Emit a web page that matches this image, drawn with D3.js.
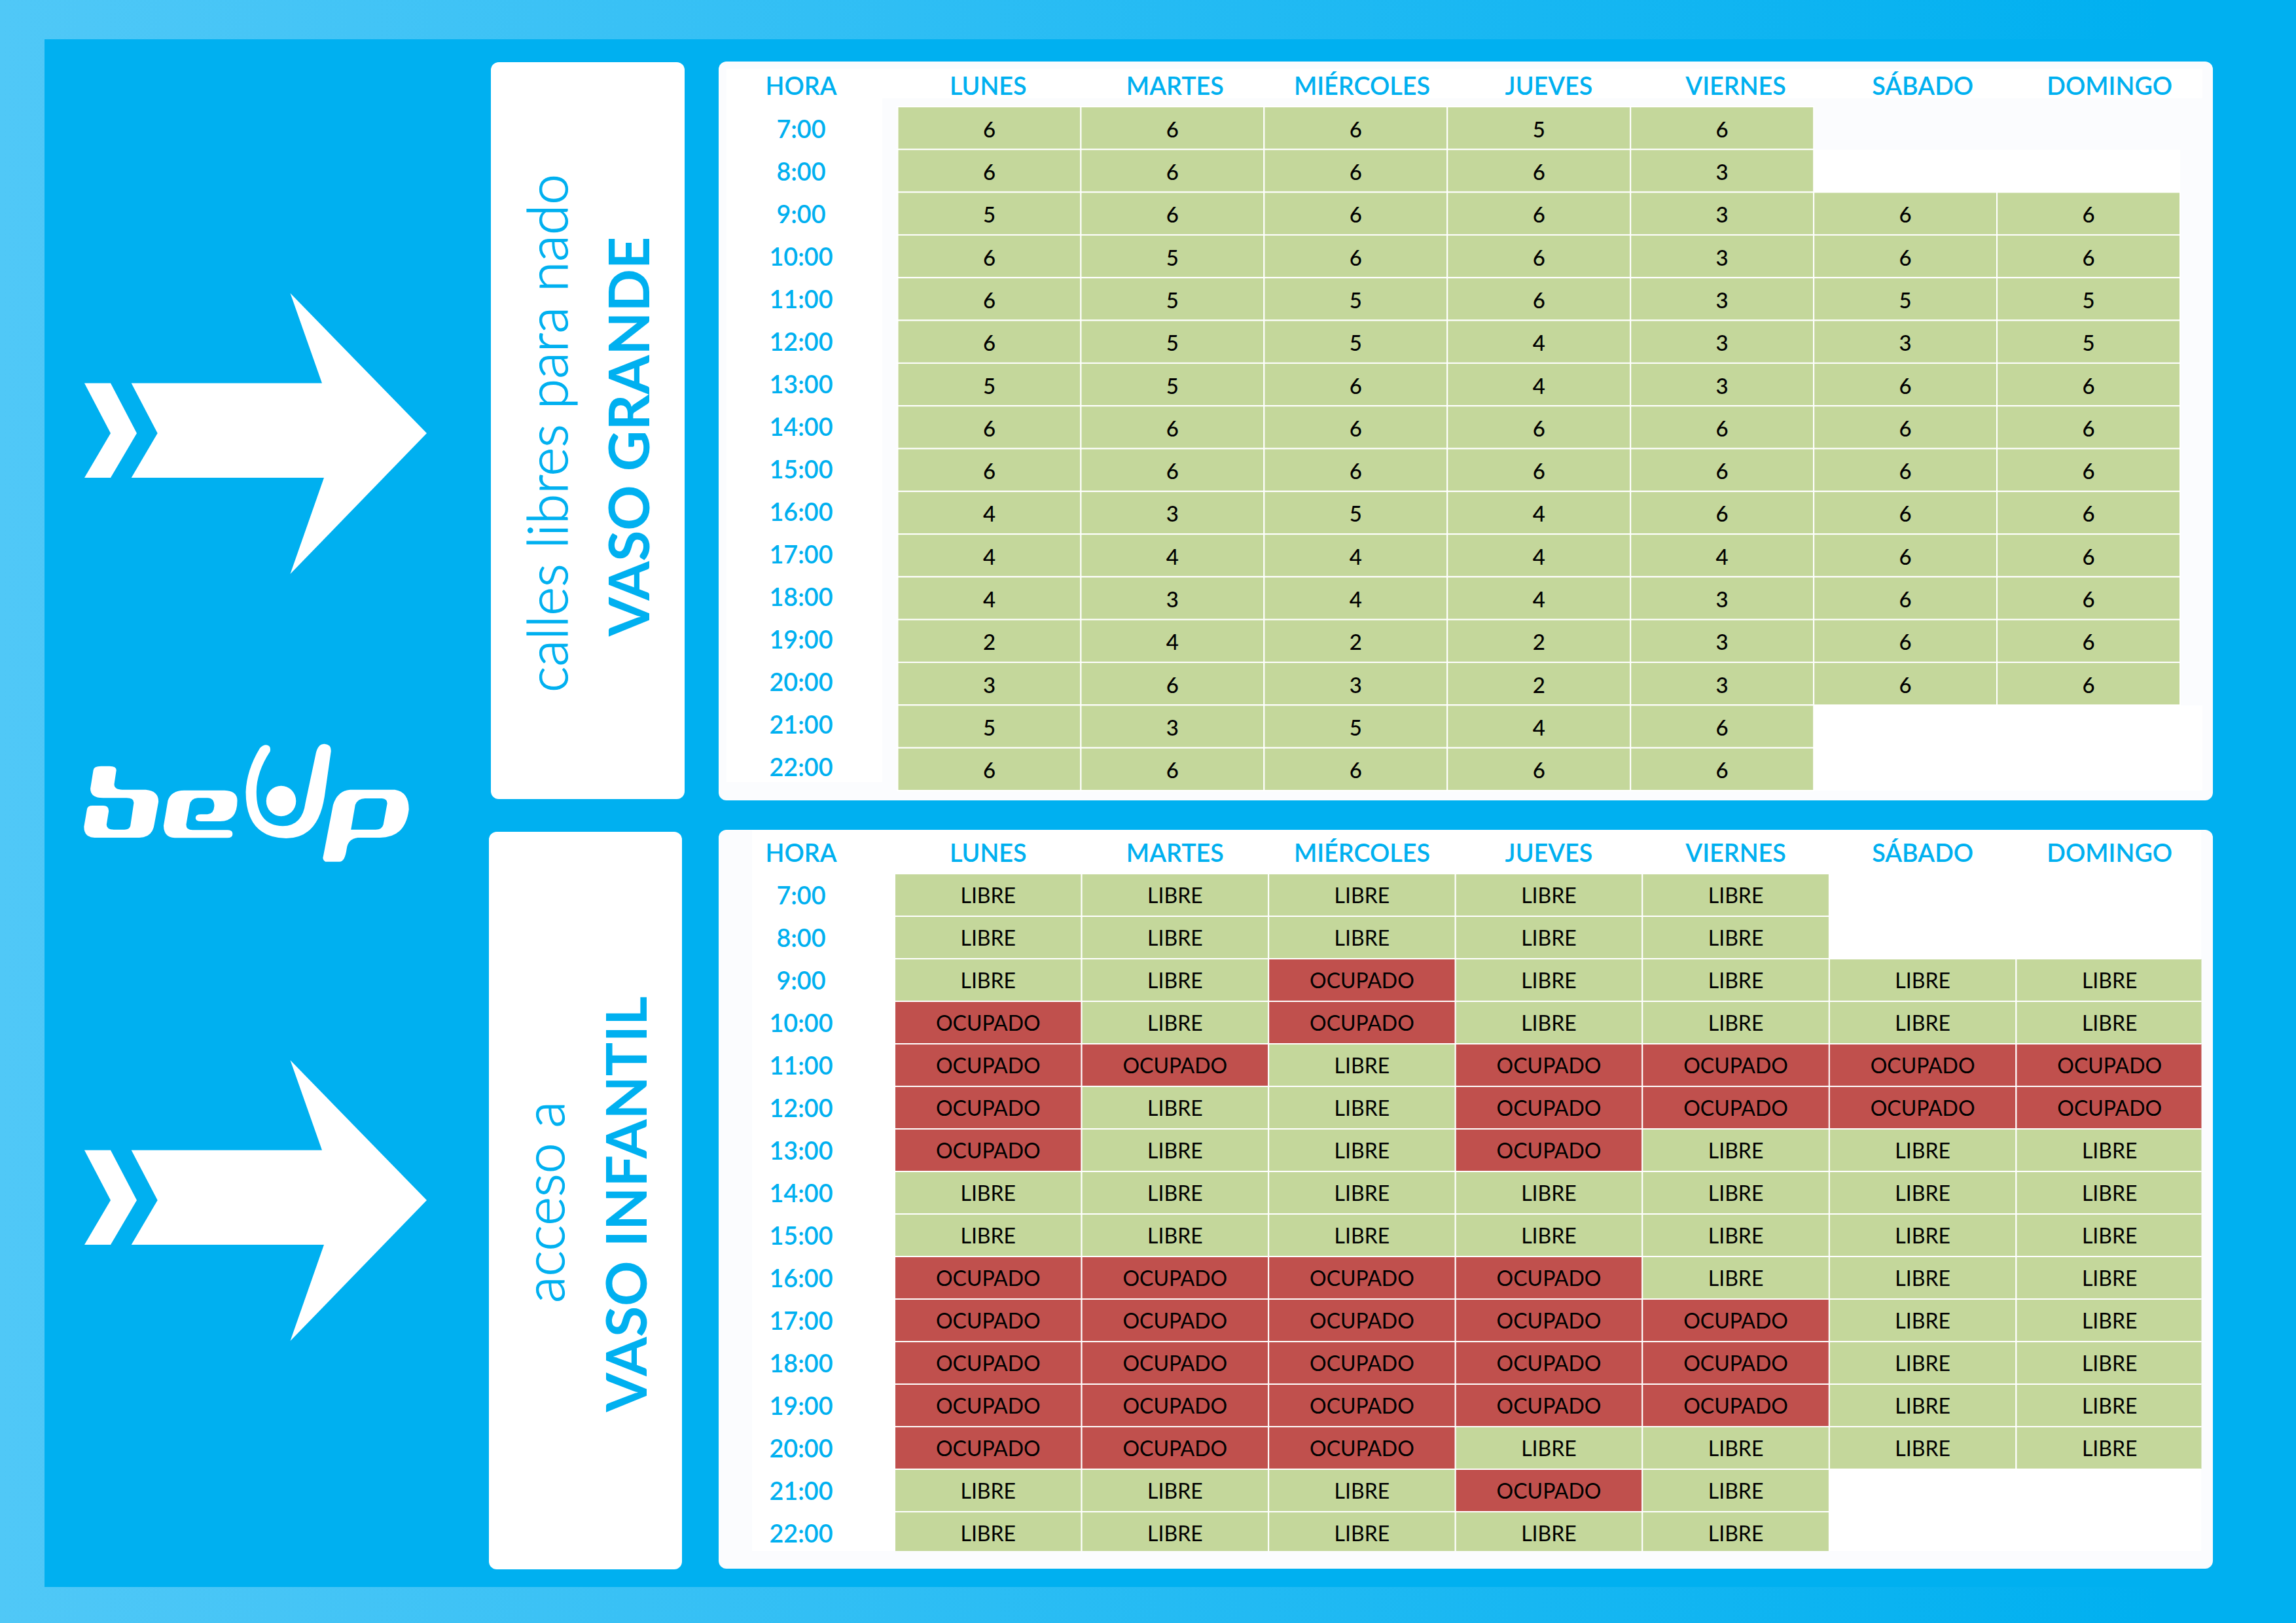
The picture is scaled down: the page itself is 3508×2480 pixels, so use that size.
<!DOCTYPE html>
<html>
<head>
<meta charset="utf-8">
<script src="https://cdn.jsdelivr.net/npm/d3@7"></script>
<style>
  html, body { margin: 0; padding: 0; background: #00b0f0; }
  svg { display: block; }
  text { font-family: Lato, "Open Sans", sans-serif; }
</style>
</head>
<body>
<svg id="chart" width="3508" height="2480"></svg>
<script>
const days = ["LUNES", "MARTES", "MIÉRCOLES", "JUEVES", "VIERNES", "SÁBADO", "DOMINGO"];
const hours = ["7:00", "8:00", "9:00", "10:00", "11:00", "12:00", "13:00", "14:00",
  "15:00", "16:00", "17:00", "18:00", "19:00", "20:00", "21:00", "22:00"];

// calles libres, one array per day, null = closed
const callesLunes = [6, 6, 5, 6, 6, 6, 5, 6, 6, 4, 4, 4, 2, 3, 5, 6];
const callesMartes = [6, 6, 6, 5, 5, 5, 5, 6, 6, 3, 4, 3, 4, 6, 3, 6];
const callesMiercoles = [6, 6, 6, 6, 5, 5, 6, 6, 6, 5, 4, 4, 2, 3, 5, 6];
const callesJueves = [5, 6, 6, 6, 6, 4, 4, 6, 6, 4, 4, 4, 2, 2, 4, 6];
const callesViernes = [6, 3, 3, 3, 3, 3, 3, 6, 6, 6, 4, 3, 3, 3, 6, 6];
const callesSabado = [null, null, 6, 6, 5, 3, 6, 6, 6, 6, 6, 6, 6, 6, null, null];
const callesDomingo = [null, null, 6, 6, 5, 5, 6, 6, 6, 6, 6, 6, 6, 6, null, null];

// vaso infantil, L = libre, O = ocupado
const L = "LIBRE", O = "OCUPADO";
const infantilLunes = [L, L, L, O, O, O, O, L, L, O, O, O, O, O, L, L];
const infantilMartes = [L, L, L, L, O, L, L, L, L, O, O, O, O, O, L, L];
const infantilMiercoles = [L, L, O, O, L, L, L, L, L, O, O, O, O, O, L, L];
const infantilJueves = [L, L, L, L, O, O, O, L, L, O, O, O, O, L, O, L];
const infantilViernes = [L, L, L, L, O, O, L, L, L, L, O, O, O, L, L, L];
const infantilSabado = [null, null, L, L, O, O, L, L, L, L, L, L, L, L, null, null];
const infantilDomingo = [null, null, L, L, O, O, L, L, L, L, L, L, L, L, null, null];

const callesByDay = [callesLunes, callesMartes, callesMiercoles, callesJueves, callesViernes, callesSabado, callesDomingo];
const infantilByDay = [infantilLunes, infantilMartes, infantilMiercoles, infantilJueves, infantilViernes, infantilSabado, infantilDomingo];

const blue = "#00b0f0", green = "#c4d79b", red = "#c0504d", pale = "#fbfcfe";

const svg = d3.select("#chart");

// background
const grad = svg.append("defs").append("linearGradient")
  .attr("id", "bg").attr("gradientUnits", "userSpaceOnUse")
  .attr("x1", 0).attr("y1", 0).attr("x2", 3300).attr("y2", 0);
grad.append("stop").attr("offset", 0).attr("stop-color", "#50c8f7");
grad.append("stop").attr("offset", 1).attr("stop-color", "#00b0f0");
svg.append("rect").attr("width", 3508).attr("height", 2480).attr("fill", "url(#bg)");
svg.append("rect").attr("x", 68).attr("y", 60).attr("width", 3373).attr("height", 2365).attr("fill", blue);

// arrows
const arrowBody = [[200.7, 585.5], [492, 585.5], [443.5, 448], [652, 662], [443.5, 877], [495, 730], [200.7, 730], [240.7, 662]];
const arrowChevron = [[129, 585.5], [169, 585.5], [209, 662], [169, 730], [129, 730], [169, 662]];
const lineGen = d3.line().curve(d3.curveLinearClosed);
[0, 1172].forEach(dy => {
  const g = svg.append("g").attr("transform", `translate(0,${dy})`).attr("fill", "#fff");
  g.append("path").attr("d", lineGen(arrowBody));
  g.append("path").attr("d", lineGen(arrowChevron));
});

// logo
const logo = svg.append("g").attr("transform", "translate(60,1080) scale(0.6506,0.3333)").attr("fill", "#fff");
logo.append("path").attr("d", "M127,290 Q128,272 145,272 L165,272 Q181,272 181,290 L176,355 Q176,380 195,380 L250,380 Q280,385 280,435 L270,540 Q265,600 235,600 L130,600 Q105,600 105,550 L112,470 Q113,453 125,453 L150,453 Q164,453 163,480 L158,540 Q158,563 175,563 L200,563 Q212,563 214,545 L222,440 Q222,418 205,418 L150,418 Q120,418 120,375 Z");
logo.append("path").attr("d", "M302,430 Q310,383 340,383 L435,383 Q465,385 465,430 Q465,525 425,525 L380,525 Q367,525 367,510 Q367,493 380,493 L395,493 Q410,490 411,455 Q411,418 395,418 L372,418 Q356,420 353,450 L345,540 Q345,565 360,565 L442,565 Q454,565 454,583 Q454,601 442,601 L318,601 Q292,598 292,545 Z");
logo.append("path").attr("d", "M518,190 Q525,175 533,175 Q545,178 542,205 Q510,300 510,390 Q510,545 572,547 Q618,545 625,440 L650,210 Q655,170 670,170 Q686,172 685,205 L670,410 Q655,603 580,603 Q485,600 485,390 Q487,290 518,190 Z");
logo.append("ellipse").attr("cx", 568).attr("cy", 432).attr("rx", 35).attr("ry", 70);
logo.append("path").attr("fill-rule", "evenodd").attr("d", "M690,450 Q700,385 730,380 L835,380 Q868,390 868,470 Q860,600 800,600 L748,600 Q725,605 722,650 Q718,710 705,710 L672,710 Q664,700 667,685 Z M742,450 Q748,420 765,420 L805,420 Q818,422 817,445 L808,540 Q805,563 790,563 L732,563 Z");

// side labels
function sideLabel(x, y, w, h, lightText, lightY, boldText, boldY, lightX, boldX) {
  svg.append("rect").attr("x", x).attr("y", y).attr("width", w).attr("height", h).attr("rx", 12).attr("fill", "#fff");
  svg.append("text").attr("transform", `translate(${lightX},${lightY}) rotate(-90)`)
    .attr("text-anchor", "middle").attr("font-size", 84).attr("font-weight", 300)
    .attr("fill", blue).attr("stroke", blue).attr("stroke-width", 1.2).text(lightText);
  svg.append("text").attr("transform", `translate(${boldX},${boldY}) rotate(-90)`)
    .attr("text-anchor", "middle").attr("font-size", 86).attr("font-weight", 700).attr("fill", blue).text(boldText);
}
sideLabel(750, 95, 296, 1126, "calles libres para nado", 662, "VASO GRANDE", 667, 867, 992);
sideLabel(747, 1271, 295, 1127, "acceso a", 1837, "VASO INFANTIL", 1840, 862, 988);

// panels
function panel(y0, y1) {
  svg.append("rect").attr("x", 1098).attr("y", y0).attr("width", 2283).attr("height", y1 - y0).attr("rx", 12).attr("fill", pale);
}
function whiteBox(x0, y0, x1, y1) {
  svg.append("rect").attr("x", x0).attr("y", y0).attr("width", x1 - x0).attr("height", y1 - y0).attr("fill", "#fff");
}
panel(94, 1223);
panel(1268, 2397);
whiteBox(1110, 105, 3365, 150);
whiteBox(1110, 150, 1348, 1195);
whiteBox(2771, 229, 3331, 294);
whiteBox(2771, 1078, 3365, 1208);
whiteBox(1149, 1269, 3363, 2370);

// header + hour axes share the infantil grid
const xHeader = d3.scaleBand().domain(days).range([1367, 3366]);
const labelSize = 37.7;

function drawAxes(headerY, hourScale) {
  const top = svg.append("g").attr("transform", `translate(0,${headerY})`)
    .call(d3.axisTop(xHeader).tickSize(0).tickPadding(0));
  const left = svg.append("g").attr("transform", "translate(1224,0)")
    .call(d3.axisLeft(hourScale).tickSize(0).tickPadding(0));
  top.select(".domain").remove();
  left.select(".domain").remove();
  top.selectAll("text").attr("dy", 0).attr("dominant-baseline", "central");
  left.selectAll("text").attr("x", 0).attr("dy", 0).attr("dominant-baseline", "central").attr("text-anchor", "middle");
  [top, left].forEach(g => g.attr("font-family", null).attr("font-size", null)
    .selectAll("text").attr("font-size", labelSize).attr("font-weight", 600).attr("fill", blue));
  svg.append("text").attr("x", 1224).attr("y", headerY).attr("dominant-baseline", "central")
    .attr("text-anchor", "middle").attr("font-size", labelSize).attr("font-weight", 600).attr("fill", blue).text("HORA");
}

function drawCells(byDay, xScale, yScale, fillOf, fontSize, fontWeight, dyText, clipId, clipRight, clipBottom) {
  const clip = svg.select("defs").append("clipPath").attr("id", clipId);
  clip.append("rect").attr("x", 0).attr("y", 0).attr("width", clipRight).attr("height", clipBottom);
  const cells = days.flatMap((d, i) => hours.map((h, j) => ({ day: d, hour: h, value: byDay[i][j] })))
    .filter(c => c.value !== null);
  const g = svg.append("g").attr("clip-path", `url(#${clipId})`);
  g.selectAll("rect").data(cells).join("rect")
    .attr("x", c => xScale(c.day)).attr("y", c => yScale(c.hour))
    .attr("width", xScale.bandwidth()).attr("height", yScale.bandwidth())
    .attr("fill", c => fillOf(c.value)).attr("stroke", "#fff").attr("stroke-width", 2);
  g.selectAll("text").data(cells).join("text")
    .attr("x", c => xScale(c.day) + xScale.bandwidth() / 2)
    .attr("y", c => yScale(c.hour) + yScale.bandwidth() / 2 + dyText)
    .attr("text-anchor", "middle").attr("dominant-baseline", "central")
    .attr("font-size", fontSize).attr("font-weight", fontWeight).attr("fill", "#000").text(c => c.value);
}

// top table: vaso grande
const xGrande = d3.scaleBand().domain(days).range([1371.5, 3331]);
const yGrande = d3.scaleBand().domain(hours).range([163, 1208]);
const yGrandeLabels = d3.scaleBand().domain(hours).range([163.5, 1203.5]);
drawCells(callesByDay, xGrande, yGrande, () => green, 33, 500, 1, "clipGrande", 3508, 2480);
drawAxes(130, yGrandeLabels);

// bottom table: vaso infantil
const xInfantil = xHeader;
const yInfantil = d3.scaleBand().domain(hours).range([1335, 2375]);
drawCells(infantilByDay, xInfantil, yInfantil, v => v === O ? red : green, 32, 400, 0, "clipInfantil", 3363.5, 2370);
drawAxes(1302, yInfantil);
</script>
</body>
</html>
